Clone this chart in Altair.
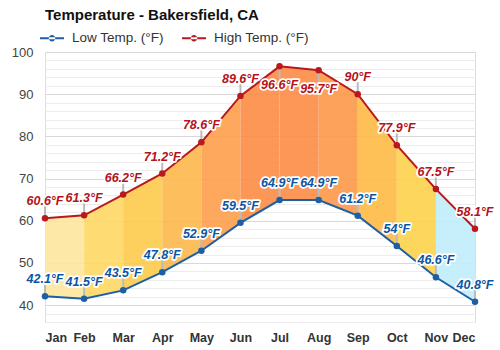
import json
import altair as alt
import pandas as pd

months = ["Jan", "Feb", "Mar", "Apr", "May", "Jun", "Jul", "Aug", "Sep", "Oct", "Nov", "Dec"]
low = [42.1, 41.5, 43.5, 47.8, 52.9, 59.5, 64.9, 64.9, 61.2, 54, 46.6, 40.8]
high = [60.6, 61.3, 66.2, 71.2, 78.6, 89.6, 96.6, 95.7, 90, 77.9, 67.5, 58.1]
seg_colors = ["#fde59e", "#fed764", "#fdcb4c", "#fdb84b", "#fd9f4b", "#fd8c46",
              "#fd8c46", "#fd9848", "#fdba46", "#fdd24c", "#c0ecfb"]
below_high = ["Jul", "Aug"]  # high labels drawn under the point

LOW_NAME = "Low Temp. (°F)"
HIGH_NAME = "High Temp. (°F)"
LOW_LINE = "#1d5fa5"
HIGH_LINE = "#b8181e"
LOW_TXT = "#0b56a4"
HIGH_TXT = "#b3131b"
FONT = "Liberation Sans"

rows = []
for i, m in enumerate(months):
    rows.append({"i": i, "month": m, "series": LOW_NAME, "value": low[i],
                 "label": f"{low[i]:g}°F", "kind": "low", "below": False})
    rows.append({"i": i, "month": m, "series": HIGH_NAME, "value": high[i],
                 "label": f"{high[i]:g}°F", "kind": "high", "below": m in below_high})
long = pd.DataFrame(rows)

seg_rows = []
for s in range(len(months) - 1):
    for j in (s, s + 1):
        seg_rows.append({"seg": s, "x": j, "low": low[j], "high": high[j]})
seg = pd.DataFrame(seg_rows)

xscale = alt.Scale(domain=[0, 11], nice=False, zero=False)
yscale = alt.Scale(domain=[36, 100], nice=False, zero=False)

x_axis = alt.Axis(values=list(range(12)), labelExpr=f"{json.dumps(months)}[datum.value]",
                  title=None, grid=False, domain=False, ticks=False, labelFont=FONT,
                  labelFontSize=12.5, labelFontWeight="bold", labelColor="#333",
                  labelPadding=9, labelOverlap=False)
y_axis = alt.Axis(values=list(range(36, 101, 2)), title=None, domain=False, ticks=False,
                  labelExpr="datum.value % 10 === 0 ? datum.label : ''",
                  labelFont=FONT, labelFontSize=13, labelColor="#444", labelPadding=12,
                  labelOverlap=False,
                  gridColor={"condition": {"test": "datum.value % 10 === 0", "value": "#d8d8d8"},
                             "value": "#ececec"},
                  gridWidth=1)

fills = alt.Chart(seg).mark_area(opacity=0.9, interpolate="linear").encode(
    x=alt.X("x:Q", scale=xscale, axis=x_axis),
    y=alt.Y("low:Q", scale=yscale, axis=y_axis),
    y2="high:Q",
    fill=alt.Fill("seg:N", scale=alt.Scale(domain=list(range(11)), range=seg_colors), legend=None),
)

base = alt.Chart(long).encode(
    x=alt.X("i:Q", scale=xscale, axis=x_axis),
    y=alt.Y("value:Q", scale=yscale, axis=y_axis),
)

stem_up = base.transform_filter("!datum.below").mark_rule(
    color="#bbbbbb", strokeWidth=2, y2Offset=-12).encode(y2="value:Q")
stem_down = base.transform_filter("datum.below").mark_rule(
    color="#bbbbbb", strokeWidth=2, y2Offset=12).encode(y2="value:Q")

color = alt.Color("series:N",
                  scale=alt.Scale(domain=[LOW_NAME, HIGH_NAME], range=[LOW_LINE, HIGH_LINE]),
                  legend=alt.Legend(
                      title=None, orient="none", legendX=-5, legendY=-26, direction="horizontal",
                      symbolType="M-1,-0.09H1V0.09H-1Z M-0.27,0A0.27,0.27 0 1,0 0.27,0A0.27,0.27 0 1,0 -0.27,0Z",
                      symbolSize=576, symbolStrokeWidth=0, labelFont=FONT, labelFontSize=13.5,
                      labelColor="#333", labelOffset=8, columnPadding=18))

points = base.mark_point(filled=True, size=42, opacity=1, shape="circle").encode(color=color)
lines = base.mark_line(strokeWidth=2).encode(color=alt.Color("series:N", scale=alt.Scale(
    domain=[LOW_NAME, HIGH_NAME], range=[LOW_LINE, HIGH_LINE]), legend=None))

txt_color = alt.Color("kind:N", scale=alt.Scale(domain=["low", "high"], range=[LOW_TXT, HIGH_TXT]),
                      legend=None)
tstyle = dict(font=FONT, fontSize=12.5, fontWeight="bold", fontStyle="italic", align="center",
              baseline="alphabetic")

halo_up = base.transform_filter("!datum.below").mark_text(
    dy=-13, stroke="white", strokeWidth=3.5, strokeJoin="round", fill="white", **tstyle
).encode(text="label:N")
halo_down = base.transform_filter("datum.below").mark_text(
    dy=23, stroke="white", strokeWidth=3.5, strokeJoin="round", fill="white", **tstyle
).encode(text="label:N")
text_up = base.transform_filter("!datum.below").mark_text(dy=-13, **tstyle).encode(
    text="label:N", fill=txt_color)
text_down = base.transform_filter("datum.below").mark_text(dy=23, **tstyle).encode(
    text="label:N", fill=txt_color)

chart = alt.layer(
    fills, stem_up, stem_down, lines, points, halo_up, halo_down, text_up, text_down
).resolve_scale(color="independent", fill="independent").properties(
    width=430, height=270,
    autosize=alt.AutoSizeParams(type="none"),
    padding={"left": 45, "top": 52, "right": 25, "bottom": 28},
    title=alt.Title("Temperature - Bakersfield, CA", anchor="start", frame="group",
                    font=FONT, fontSize=15, fontWeight="bold", color="#111", offset=3),
).configure_view(stroke=None).configure(background="white")

chart.save("out.html", embed_options={"renderer": "svg", "actions": False})
